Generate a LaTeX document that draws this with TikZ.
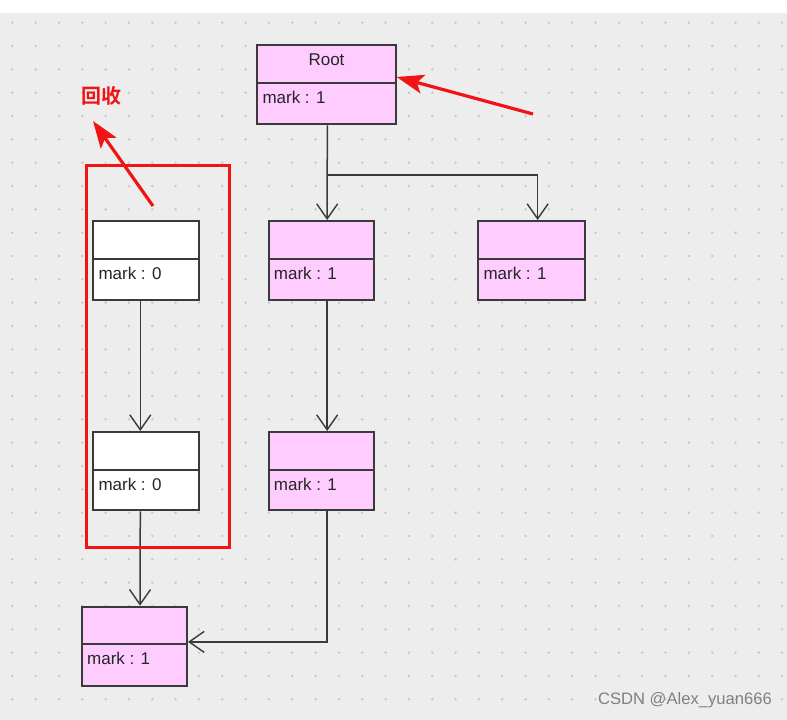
\documentclass[tikz,border=0pt]{standalone}
\usepackage{fontspec}
\setmainfont{Liberation Sans}
\newfontfamily\cjk{Noto Sans CJK SC}[BoldFont={* Bold}]
\usetikzlibrary{arrows.meta,fit}
\definecolor{bggray}{HTML}{EDEDED}
\definecolor{dotgray}{HTML}{C6C6C6}
\definecolor{pinkfill}{HTML}{FFCCFF}
\definecolor{edge}{HTML}{3A3A3A}
\definecolor{redmark}{HTML}{F01414}
\tikzset{
  objbox/.style={draw=edge, line width=2pt, inner sep=0pt},
  objline/.style={draw=edge, line width=1.7pt},
  objtext/.style={font=\fontsize{17}{19}\selectfont, text=black!85, inner sep=0pt},
  conn/.style={draw=edge, line width=1.5pt, -{Straight Barb[length=15pt,width=21pt,line width=1.4pt]}},
  redarrow/.style={draw=redmark, line width=3.2pt, -{Stealth[length=27pt,width=19pt,inset=6pt]}},
}
\newcommand\umlobj[9]{%
  \coordinate (#1-nw) at (#2,#3);
  \coordinate (#1-se) at (#4,#5);
  \node[objbox, fill=#7, fit=(#1-nw)(#1-se)] (#1) {};
  \draw[objline] (#1.west |- 0,#6) -- (#1.east |- 0,#6);
  \node[objtext] (#1-title) at ({(#2+#4)/2},{#3+14.5}) {#8};
  \node[objtext, anchor=west] (#1-mark) at ({#2+5},{#6+14.5}) {#9};
}
\begin{document}
\begin{tikzpicture}[x=1pt,y=-1pt]
\useasboundingbox (0,0) rectangle (787,720);
\fill[white] (0,0) rectangle (787,720);
\fill[bggray] (0,13) rectangle (787,720);
\foreach \i in {0,...,33}{
  \foreach \j in {0,...,29}{
    \fill[dotgray] ({12.3+23.33*\i},{22.7+23.33*\j}) circle (1.3);
  }
}
% objects
\umlobj{root}{257.3}{45}{395.7}{124.3}{83}{pinkfill}{Root}{mark : 1}
\umlobj{cA}{268.7}{221}{374}{299.7}{259.3}{pinkfill}{}{mark : 1}
\umlobj{cB}{478.3}{221}{585}{299.7}{259.3}{pinkfill}{}{mark : 1}
\umlobj{cC}{268.7}{432}{374}{510.3}{469.7}{pinkfill}{}{mark : 1}
\umlobj{wA}{93.3}{221}{198.7}{300}{259}{white}{}{mark : 0}
\umlobj{wB}{93.3}{432}{198.7}{510.3}{469.7}{white}{}{mark : 0}
\umlobj{bot}{82}{606.7}{187}{685.7}{644.3}{pinkfill}{}{mark : 1}
% connectors
\draw[conn] ([xshift=0.8]root.south) -- ([xshift=5.8]cA.north);
\draw[conn] ([xshift=0.8]root.south) ++(0,49.7) -| ([xshift=6]cB.north);
\draw[conn] ([xshift=5.8]cA.south) -- ([xshift=5.8]cC.north);
\draw[conn] ([xshift=-5.7]wA.south) -- ([xshift=-5.7]wB.north);
\draw[conn] ([xshift=-5.7]wB.south) -- ([xshift=5.5]bot.north);
\draw[conn] ([xshift=5.8]cC.south) |- ([yshift=4.3]bot.east);
% red annotations
\draw[redmark, line width=3pt] (86,165) rectangle (229,547) coordinate (redbox-se);
\node[text=redmark, font=\cjk\bfseries\fontsize{20}{22}\selectfont, inner sep=0pt] (recl) at (101,96) {回收};
\coordinate (ra1-tail) at (153,206);
\draw[redarrow] (ra1-tail) -- (93,121);
\coordinate (ra2-tail) at (533,114);
\draw[redarrow] (ra2-tail) -- (root.east |- 0,77);
% watermark
\node[text=black!50, font=\fontsize{16.6}{18}\selectfont, anchor=east, inner sep=0pt] (wm) at (772,700) {CSDN @Alex\_yuan666};
\end{tikzpicture}
\end{document}
